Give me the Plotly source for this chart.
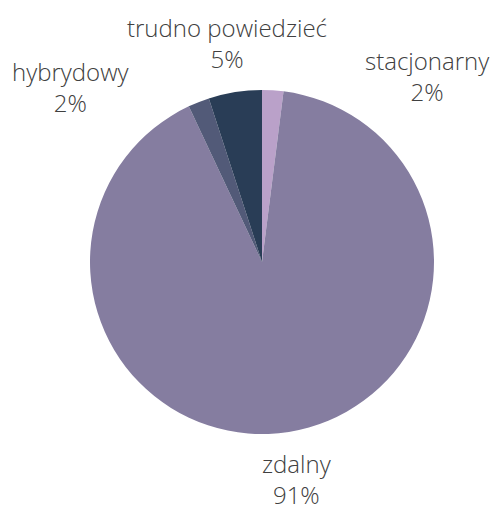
import plotly.graph_objects as go

labels = ["stacjonarny", "zdalny", "hybrydowy", "trudno powiedzieć"]
values = [2, 91, 2, 5]
colors = ["#BAA1C9", "#857DA0", "#525A78", "#293D56"]

W, H = 494, 508
# label anchor positions (pixel centres of the two-line labels)
label_pos = [(427, 76), (297, 479), (71, 87), (227, 43)]

fig = go.Figure(go.Pie(
    labels=labels,
    values=values,
    sort=False,
    direction="clockwise",
    rotation=0,
    marker=dict(colors=colors, line=dict(width=0)),
    textinfo="none",
    showlegend=False,
    hoverinfo="label+percent",
    domain=dict(x=[90 / W, 434 / W], y=[(H - 434) / H, (H - 90) / H]),
))

total = sum(values)
for lab, val, (px, py) in zip(labels, values, label_pos):
    fig.add_annotation(
        x=px / W, y=1 - py / H, xref="paper", yref="paper",
        text=f"{lab}<br>{round(100 * val / total)}%",
        showarrow=False, xanchor="center", yanchor="middle", align="center",
        font=dict(family="Open Sans", size=24, color="#404040", weight=300),
    )

fig.update_layout(
    width=W, height=H,
    margin=dict(l=0, r=0, t=0, b=0),
    paper_bgcolor="white",
    plot_bgcolor="white",
)
fig.write_html("out.html", config={"displayModeBar": False},
               post_script="document.body.style.margin='0';")
